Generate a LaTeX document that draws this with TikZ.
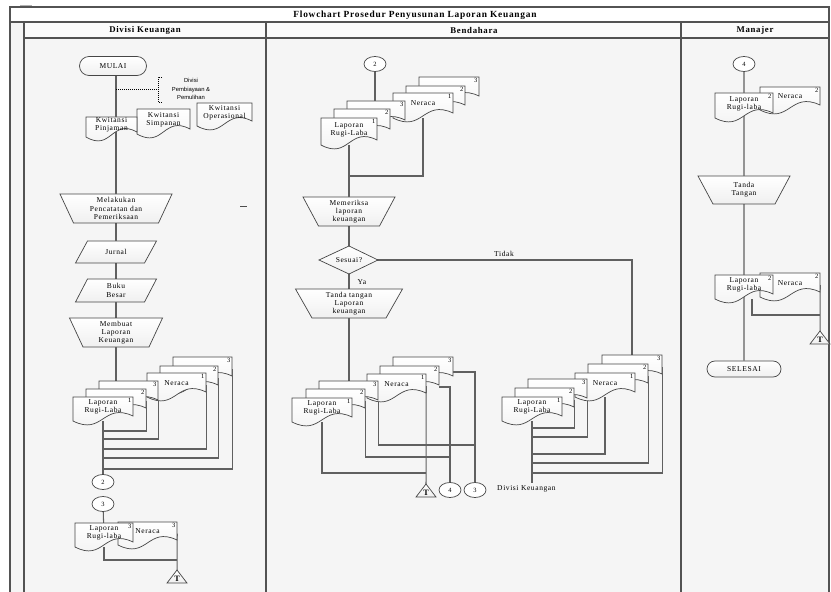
\documentclass[tikz,border=0pt]{standalone}
\usepackage{fontspec}
\setmainfont{Liberation Serif}[LetterSpace=8]
\newfontfamily\annofont{Liberation Sans}
\usetikzlibrary{backgrounds, shapes.misc, shapes.geometric}

\tikzset{
  flow/.style={line width=0.9pt, draw=gray!75!black},
  lane/.style={line width=1.1pt, draw=gray!65!black},
  shapeline/.style={draw=gray!55!black, line width=0.6pt, top color=white, bottom color=gray!12},
  lbl/.style={font=\fontsize{6.4}{7}\selectfont, align=center, inner sep=0pt},
  docnum/.style={font=\fontsize{5.5}{5.5}\selectfont, anchor=north east, inner sep=1.2pt},
  term/.style={rounded rectangle, draw=gray!55!black, line width=0.6pt, top color=white, bottom color=gray!12,
    inner sep=0pt, font=\fontsize{6.4}{7}\selectfont},
  conn/.style={ellipse, draw=gray!55!black, line width=0.6pt, fill=white, inner sep=0pt,
    minimum width=0.66cm, minimum height=0.45cm, font=\fontsize{5.5}{5.5}\selectfont},
  anno/.style={densely dotted, line width=0.7pt, black},
  head/.style={font=\bfseries\fontsize{7.5}{8}\selectfont, inner sep=0pt}
}

% dokumen: nama, x1, atas, x2, bawah, nomor, teks
\newcommand{\docu}[7]{%
  \draw[shapeline] (#2,#3) -- (#4,#3) -- (#4,{#5-5})
    .. controls ({(#2+#4)/2},{#5-19}) and ({(#2+#4)/2},{#5+15}) .. (#2,#5) -- cycle;
  \node[lbl, minimum width={(#4-#2)*0.03cm}, minimum height={(#5-#3)*0.03cm}] (#1)
    at ({(#2+#4)/2},{(#3+#5)/2}) {};
  \node[lbl] (#1t) at ({(#2+#4)/2},{(#3+#5)/2-2}) {#7};
  \node[docnum] (#1n) at (#4,#3) {#6};
}
% proses manual: nama, cx, atas, bawah, setengah lebar atas, setengah lebar bawah, teks
\newcommand{\manop}[7]{%
  \draw[shapeline] ({#2-#5},#3) -- ({#2+#5},#3) -- ({#2+#6},#4) -- ({#2-#6},#4) -- cycle;
  \node[lbl] (#1) at (#2,{(#3+#4)/2}) {#7};
}
% input/output: nama, cx, atas, bawah, setengah lebar, miring, teks
\newcommand{\ioshape}[7]{%
  \draw[shapeline] ({#2-#5+#6},#3) -- ({#2+#5+#6},#3) -- ({#2+#5-#6},#4) -- ({#2-#5-#6},#4) -- cycle;
  \node[lbl] (#1) at (#2,{(#3+#4)/2}) {#7};
}
% arsip (T): nama, cx, atas
\newcommand{\arsip}[3]{%
  \draw[shapeline] ({#2-10},{#3+13}) -- (#2,#3) -- ({#2+10},{#3+13}) -- cycle;
  \node[font=\bfseries\fontsize{7}{7}\selectfont, inner sep=0pt] (#1) at (#2,{#3+8.5}) {T};
}

\begin{document}
\begin{tikzpicture}[x=0.03cm, y=-0.03cm]
  \useasboundingbox (0,0) rectangle (831,592);

  % -------------------------------------------------------------
  % bingkai dan jalur (swimlane)
  % -------------------------------------------------------------
  \begin{scope}[on background layer]
    \fill[white] (0,0) rectangle (831,592);
    \fill[gray!8] (10,7) rectangle (829,600);
    \fill[white] (10,7) rectangle (829,22);
    \fill[gray!3] (24,22) rectangle (829,38);
    \draw[lane] (10,7) rectangle (829,600);
    \draw[lane] (10,22) -- (829,22);
    \draw[lane] (24,38) -- (829,38);
    \draw[lane] (24,22) -- (24,600);
    \draw[lane] (266,22) -- (266,600);
    \draw[lane] (681,22) -- (681,600);
    \draw[gray!60] (20,5) -- (32,5);
  \end{scope}

  \node[head, font=\bfseries\fontsize{8}{9}\selectfont] (judul) at (415,15) {Flowchart Prosedur Penyusunan Laporan Keuangan};
  \node[head] (hdk) at (145,30) {Divisi Keuangan};
  \node[head] (hbd) at (474,30) {Bendahara};
  \node[head] (hmj) at (755,30) {Manajer};

  % -------------------------------------------------------------
  % Divisi Keuangan
  % -------------------------------------------------------------
  \node[term, minimum width=2.01cm, minimum height=0.57cm] (mulai) at (113,66) {MULAI};

  % catatan Divisi Pembiayaan
  \node[font=\annofont\fontsize{5}{7}\selectfont, align=center, inner sep=0pt] (pemb) at (191,89)
    {Divisi\\Pembiayaan \&\\Pemulihan};
  \draw[anno] (116,89) -- (158,89);
  \draw[anno] (162,77) -- (158,77) -- (158,102) -- (162,102);

  \docu{ko}{197}{103}{252}{126}{}{Kwitansi\\Operasional}
  \docu{ks}{137}{109}{190}{134}{}{Kwitansi\\Simpanan}
  \docu{kp}{86}{117}{137}{137}{}{Kwitansi\\Pinjaman}

  \manop{melakukan}{116}{194}{223}{56}{42.5}{Melakukan\\Pencatatan dan\\Pemeriksaan}
  \draw[gray!60!black, line width=0.6pt] (240,206) -- (247,206);
  \ioshape{jurnal}{116}{241}{263}{34.5}{6}{Jurnal}
  \ioshape{bukubesar}{116}{279}{302}{34.5}{6}{Buku\\Besar}
  \manop{membuat}{116}{318}{347}{46.5}{33}{Membuat\\Laporan\\Keuangan}

  \docu{dkn3}{173}{357}{232}{381}{3}{}
  \docu{dkn2}{160}{366}{218}{390}{2}{}
  \docu{dkn1}{147}{373}{206}{397}{1}{Neraca}
  \docu{dkl3}{99}{381}{158}{405}{3}{}
  \docu{dkl2}{86}{389}{146}{413}{2}{}
  \docu{dkl1}{73}{397}{133}{421}{1}{Laporan\\Rugi-Laba}

  \node[conn] (dkc2) at (103,482) {2};
  \node[conn] (dkc3) at (103,504) {3};

  \docu{dknb}{118}{522}{177}{545}{3}{Neraca}
  \docu{dklb}{75}{523}{133}{547}{3}{Laporan\\Rugi-laba}
  \arsip{dkt}{177}{570}

  % -------------------------------------------------------------
  % Bendahara
  % -------------------------------------------------------------
  \node[conn] (bc2) at (375,64) {2};

  \docu{bn3}{419}{77}{479}{101}{3}{}
  \docu{bn2}{406}{86}{465}{110}{2}{}
  \docu{bn1}{393}{93}{453}{118}{1}{Neraca}
  \docu{bl3}{347}{101}{405}{125}{3}{}
  \docu{bl2}{334}{109}{390}{134}{2}{}
  \docu{bl1}{321}{118}{377}{145}{1}{Laporan\\Rugi-Laba}

  \manop{memeriksa}{349}{197}{226}{46}{30.5}{Memeriksa\\laporan\\keuangan}
  \draw[shapeline] (319,260) -- (349,246) -- (378,260) -- (349,274) -- cycle;
  \node[lbl] (sesuai) at (349,260) {Sesuai?};
  \node[lbl] (tidak) at (504,254) {Tidak};
  \node[lbl] (ya) at (362,282) {Ya};
  \manop{tandatangan}{349}{289}{318}{53.5}{37}{Tanda tangan\\Laporan\\keuangan}

  \docu{b2n3}{393}{357}{453}{381}{3}{}
  \docu{b2n2}{380}{366}{439}{390}{2}{}
  \docu{b2n1}{367}{374}{426}{398}{1}{Neraca}
  \docu{b2l3}{319}{381}{378}{405}{3}{}
  \docu{b2l2}{306}{389}{365}{413}{2}{}
  \docu{b2l1}{292}{398}{352}{422}{1}{Laporan\\Rugi-Laba}

  \arsip{b2t}{426}{484}
  \node[conn] (b2c4) at (450,490) {4};
  \node[conn] (b2c3) at (475,490) {3};
  \node[lbl, anchor=west] (kedk) at (497,489) {Divisi Keuangan};

  \docu{b3n3}{602}{355}{662}{379}{3}{}
  \docu{b3n2}{588}{364}{648}{388}{2}{}
  \docu{b3n1}{575}{373}{635}{397}{1}{Neraca}
  \docu{b3l3}{528}{379}{587}{403}{3}{}
  \docu{b3l2}{515}{388}{574}{412}{2}{}
  \docu{b3l1}{502}{397}{562}{421}{1}{Laporan\\Rugi-Laba}
  \coordinate (b3end) at (532,483);

  % -------------------------------------------------------------
  % Manajer
  % -------------------------------------------------------------
  \node[conn] (mc4) at (744,64) {4};
  \docu{mn1}{760}{87}{820}{110}{2}{Neraca}
  \docu{ml1}{715}{93}{773}{118}{2}{Laporan\\Rugi-laba}
  \manop{mtanda}{744}{176}{204}{46}{31}{Tanda\\Tangan}
  \docu{mn2}{760}{273}{820}{297}{2}{Neraca}
  \docu{ml2}{715}{275}{773}{299}{2}{Laporan\\Rugi-laba}
  \arsip{mt}{820}{331}
  \node[term, minimum width=2.22cm, minimum height=0.48cm] (selesai) at (744,369) {SELESAI};

  % -------------------------------------------------------------
  % garis alir (di bawah simbol)
  % -------------------------------------------------------------
  \begin{scope}[on background layer]
    % Divisi Keuangan
    \draw[flow] (mulai.south -| melakukan) -- (membuat);
    \draw[flow] (membuat) -- (membuat |- dkl3.north);
    \draw[flow] (dkl1) -- (dkc2);
    \draw[flow] (dkl2.east) |- (dkl1 |- 0,431);
    \draw[flow] (dkl3.east) |- (dkl1 |- 0,439);
    \draw[flow] (dkn1.east) |- (dkl1 |- 0,449);
    \draw[flow] (dkn2.east) |- (dkl1 |- 0,458);
    \draw[flow] (dkn3.east) |- (dkl1 |- 0,469);
    \draw[flow] (dkc3) -- (dklb);
    \draw[flow] (dklb) |- (dknb.east |- 0,560);
    \draw[flow] (dknb.east) -- (dkt);

    % Bendahara
    \draw[flow] (bc2) -- (bc2 |- bl3.north);
    \draw[flow] (bl1) -- (memeriksa);
    \draw[flow] (bn1) |- (bl1 |- 0,176);
    \draw[flow] (memeriksa) -- (sesuai) -- (tandatangan) -- (tandatangan |- b2l3.north);
    \draw[flow] (sesuai) -| (b3n3);

    \draw[flow] (b2l1) |- (b2n1.east |- 0,473);
    \draw[flow] (b2l2.east) |- (b2c4 |- 0,457);
    \draw[flow] (b2l3.east) |- (b2c3 |- 0,445);
    \draw[flow] (b2n1.east) -- (b2t);
    \draw[flow] (b2n2.east |- 0,387) -| (b2c4);
    \draw[flow] (b2n3.east |- 0,372) -| (b2c3);

    \draw[flow] (b3l1) -- (b3end);
    \draw[flow] (b3l2.east) |- (b3end |- 0,428);
    \draw[flow] (b3l3.east) |- (b3end |- 0,437);
    \draw[flow] (b3n1) |- (b3end |- 0,454);
    \draw[flow] (b3n2.east) |- (b3end |- 0,463);
    \draw[flow] (b3n3.east) |- (b3end |- 0,473);

    % Manajer
    \draw[flow] (mc4) -- (selesai);
    \draw[flow] (752,299) |- (mn2.east |- 0,315);
    \draw[flow] (mn2.east) -- (mt);
  \end{scope}
\end{tikzpicture}
\end{document}
